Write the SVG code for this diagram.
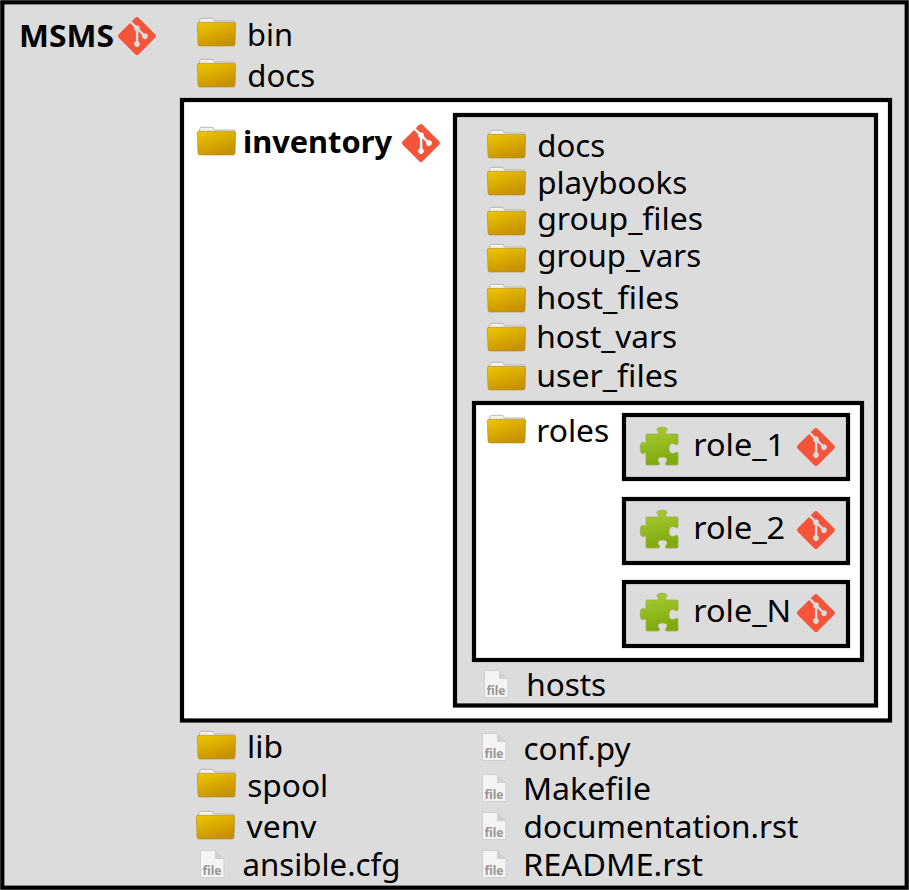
<svg xmlns="http://www.w3.org/2000/svg" width="909" height="890" viewBox="0 0 909 890">
<style>
text{font-family:"Noto Sans","Open Sans","DejaVu Sans",sans-serif;font-size:31.5px;fill:#000}
.b{font-weight:700;font-size:31px}
.box{stroke:#000;stroke-width:4.2}
.g{fill:#dcdcdc}
.w{fill:#fff}
.ft{font-size:13px;font-weight:700;fill:#969696}
</style>
<defs>
<linearGradient id="fg" x1="0" y1="0" x2="0.5" y2="1"><stop offset="0" stop-color="#f0c600"/><stop offset="1" stop-color="#c69200"/></linearGradient>
<linearGradient id="pg" x1="0" y1="0" x2="0.2" y2="1"><stop offset="0" stop-color="#a9ce32"/><stop offset="1" stop-color="#80a90e"/></linearGradient>
<symbol id="folder" overflow="visible">
<path d="M2 6 L3 1.5 Q3.3 0.3 5 0.3 H15 Q16.5 0.3 17 2 L17.5 3 H37 Q38 3 38 5 V8 H2Z" fill="#f2f2f2" stroke="#a8a8a8" stroke-width="0.8"/>
<path d="M0.3 6 Q0.3 4.3 2 4.3 H36.5 Q38.6 4.3 38.6 6 L38 26 Q38 28 36 28 H3 Q1 28 1 26Z" fill="url(#fg)" stroke="#a88a30" stroke-width="0.6"/>
</symbol>
<symbol id="file" overflow="visible">
<path d="M0.5 0.5 H15 L24 9 V27.5 H0.5Z" fill="#f4f4f4" stroke="#cfcfcf" stroke-width="1"/>
<path d="M15 0.5 V9 H24Z" fill="#d0d0d0"/>
</symbol>
<symbol id="git" overflow="visible">
<path transform="scale(0.412)" fill="#f4553a" d="M90.156 41.965 50.036 1.848a5.918 5.918 0 0 0-8.372 0l-8.328 8.332 10.566 10.566a7.03 7.03 0 0 1 7.23 1.684 7.034 7.034 0 0 1 1.669 7.277l10.187 10.184a7.028 7.028 0 0 1 7.278 1.672 7.04 7.04 0 0 1 0 9.957 7.05 7.05 0 0 1-9.965 0 7.044 7.044 0 0 1-1.528-7.66l-9.5-9.497V59.36a7.04 7.04 0 0 1 1.86 11.29 7.04 7.04 0 0 1-9.957 0 7.04 7.04 0 0 1 0-9.958 7.06 7.06 0 0 1 2.304-1.539V33.926a7.049 7.049 0 0 1-3.82-9.234L29.242 14.272 1.73 41.777a5.925 5.925 0 0 0 0 8.371L41.852 90.27a5.925 5.925 0 0 0 8.37 0l39.934-39.934a5.925 5.925 0 0 0 0-8.371"/>
</symbol>
<symbol id="puzzle" overflow="visible">
<path d="M7 7 H17 C19 7 19 5.5 18 4.5 C16 2.5 17 0.3 22 0.3 C27 0.3 28 2.5 26 4.5 C25 5.5 25 7 27 7 H37 Q38 7 38 8 V16 C38 18 36.5 18 35.5 17.5 C33 15.5 29 16 29 21.5 C29 27 33 27.5 35.5 25.5 C36.5 25 38 25 38 27 V37 Q38 38 37 38 H27 C25 38 25 36.5 26 35.5 C28 33 27.5 30 22.5 30 C17.5 30 17 33 19 35.5 C20 36.5 20 38 18 38 H7 Q6 38 6 37 V27 C6 25 4.5 26 3.5 26.5 C1.5 27.5 0.3 25 0.3 21 C0.3 17 1.5 14.5 3.5 15.5 C4.5 16 6 17 6 15 V8 Q6 7 7 7Z" fill="url(#pg)" stroke="#98ab55" stroke-width="0.8"/>
</symbol>
</defs>

<g id="msms">
<rect class="box g" x="2.3" y="2.3" width="904.4" height="885.4"/>
<text class="b" x="19" y="47" textLength="95" lengthAdjust="spacingAndGlyphs">MSMS</text>
<use href="#git" x="118" y="17"/>
</g>
<g id="bin"><use href="#folder" x="197" y="18"/><text x="247" y="46" textLength="46" lengthAdjust="spacingAndGlyphs">bin</text></g>
<g id="docs"><use href="#folder" x="197" y="59"/><text x="247.2" y="87" textLength="68" lengthAdjust="spacingAndGlyphs">docs</text></g>

<g id="inventory">
<rect class="box w" x="182" y="100" width="708" height="620.5"/>
<use href="#folder" x="197" y="127"/>
<text class="b" x="243" y="153" textLength="149" lengthAdjust="spacingAndGlyphs">inventory</text>
<use href="#git" x="402" y="124"/>
</g>

<g id="inventory-content">
<rect class="box g" x="455" y="115" width="421" height="590.5"/>
</g>
<g id="docs2"><use href="#folder" x="487" y="130"/><text x="537.2" y="157" textLength="68" lengthAdjust="spacingAndGlyphs">docs</text></g>
<g id="playbooks"><use href="#folder" x="487" y="167"/><text x="537.2" y="193.5" textLength="150" lengthAdjust="spacingAndGlyphs">playbooks</text></g>
<g id="group_files"><use href="#folder" x="487" y="207"/><text x="537.2" y="230" textLength="166" lengthAdjust="spacingAndGlyphs">group_files</text></g>
<g id="group_vars"><use href="#folder" x="487" y="244"/><text x="537.2" y="267" textLength="164" lengthAdjust="spacingAndGlyphs">group_vars</text></g>
<g id="host_files"><use href="#folder" x="487" y="284"/><text x="536.2" y="309" textLength="143" lengthAdjust="spacingAndGlyphs">host_files</text></g>
<g id="host_vars"><use href="#folder" x="487" y="323"/><text x="536.2" y="348" textLength="141" lengthAdjust="spacingAndGlyphs">host_vars</text></g>
<g id="user_files"><use href="#folder" x="487" y="362"/><text x="536.2" y="387" textLength="142" lengthAdjust="spacingAndGlyphs">user_files</text></g>

<g id="roles">
<rect class="box w" x="474" y="403" width="388" height="257"/>
<use href="#folder" x="487" y="415"/>
<text x="536.2" y="442" textLength="73" lengthAdjust="spacingAndGlyphs">roles</text>
</g>
<g id="role_1">
<rect class="box g" x="624" y="415" width="224" height="64"/>
<use href="#puzzle" x="640" y="427"/>
<text x="693.2" y="456" textLength="92" lengthAdjust="spacingAndGlyphs">role_1</text>
<use href="#git" x="797" y="428"/>
</g>
<g id="role_2">
<rect class="box g" x="624" y="499" width="224" height="64"/>
<use href="#puzzle" x="640" y="510"/>
<text x="693.2" y="539" textLength="92" lengthAdjust="spacingAndGlyphs">role_2</text>
<use href="#git" x="797" y="511"/>
</g>
<g id="role_N">
<rect class="box g" x="624" y="582" width="224" height="64"/>
<use href="#puzzle" x="640" y="593"/>
<text x="693.2" y="622" textLength="98" lengthAdjust="spacingAndGlyphs">role_N</text>
<use href="#git" x="797" y="594"/>
</g>
<g id="hosts"><use href="#file" x="484" y="670"/><text class="ft" x="486.5" y="695" textLength="19" lengthAdjust="spacingAndGlyphs">file</text><text x="526.2" y="696" textLength="80" lengthAdjust="spacingAndGlyphs">hosts</text></g>

<g id="lib"><use href="#folder" x="197" y="731"/><text x="247" y="758" textLength="36" lengthAdjust="spacingAndGlyphs">lib</text></g>
<g id="spool"><use href="#folder" x="197" y="769"/><text x="247.2" y="797" textLength="81" lengthAdjust="spacingAndGlyphs">spool</text></g>
<g id="venv"><use href="#folder" x="196" y="811"/><text x="246.5" y="838" textLength="70" lengthAdjust="spacingAndGlyphs">venv</text></g>
<g id="ansible.cfg"><use href="#file" x="200" y="850"/><text class="ft" x="202.5" y="875" textLength="19" lengthAdjust="spacingAndGlyphs">file</text><text x="242.5" y="876" textLength="158" lengthAdjust="spacingAndGlyphs">ansible.cfg</text></g>
<g id="conf.py"><use href="#file" x="482" y="733"/><text class="ft" x="484.5" y="758" textLength="19" lengthAdjust="spacingAndGlyphs">file</text><text x="523.5" y="760" textLength="107" lengthAdjust="spacingAndGlyphs">conf.py</text></g>
<g id="Makefile"><use href="#file" x="482" y="774"/><text class="ft" x="484.5" y="799" textLength="19" lengthAdjust="spacingAndGlyphs">file</text><text x="523" y="800" textLength="128" lengthAdjust="spacingAndGlyphs">Makefile</text></g>
<g id="documentation.rst"><use href="#file" x="482" y="812"/><text class="ft" x="484.5" y="837" textLength="19" lengthAdjust="spacingAndGlyphs">file</text><text x="523.5" y="838" textLength="275" lengthAdjust="spacingAndGlyphs">documentation.rst</text></g>
<g id="README.rst"><use href="#file" x="482" y="850"/><text class="ft" x="484.5" y="875" textLength="19" lengthAdjust="spacingAndGlyphs">file</text><text x="523" y="876" textLength="180" lengthAdjust="spacingAndGlyphs">README.rst</text></g>
</svg>
